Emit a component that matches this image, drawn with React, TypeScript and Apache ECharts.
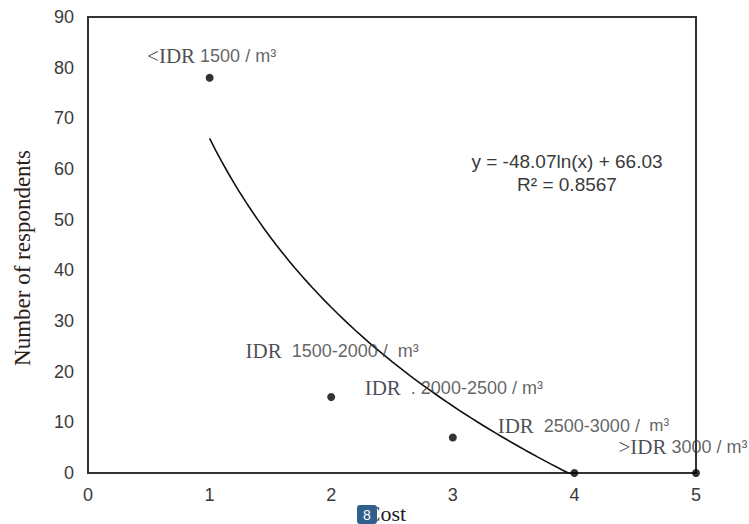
import React, { useEffect, useRef } from "react";
import * as echarts from "echarts";

// ---- data ----
const costValues = [1, 2, 3, 4, 5];
const respondents = [78, 15, 7, 0, 0];
const pricePrefix = ["<IDR", "IDR", "IDR", "IDR", ">IDR"];
const priceRange = ["1500 / m³", "1500-2000 /  m³", ". 2000-2500 / m³", "2500-3000 /", "3000 / m³"];
const priceUnitRaised = ["", "", "", "m³", ""];
const xTicks = [0, 1, 2, 3, 4, 5];
const yTicks = [0, 10, 20, 30, 40, 50, 60, 70, 80, 90];
// printed logarithmic trendline: y = a ln(x) + b
const trendA = -48.07;
const trendB = 66.03;
const trendStart = 1;
const trendEnd = 4;
const equationText = "y = -48.07ln(x) + 66.03";
const r2Text = "R² = 0.8567";

// label placement (styles)
const labelSeparators = [" ", "  ", "  ", "  ", " "];
const labelOffsets: [number, number][] = [
  [2, -22],
  [1, -46],
  [1, -50],
  [9, -47],
  [-13, -26],
];

const SERIF = "'Liberation Serif', 'Times New Roman', serif";
const SANS = "'Liberation Sans', Arial, sans-serif";

export default function App() {
  const ref = useRef<HTMLDivElement>(null);
  useEffect(() => {
    if (!ref.current) return;
    const chart = echarts.init(ref.current, undefined, { renderer: "svg" });

    const trend: [number, number][] = [];
    const steps = 60;
    for (let i = 0; i <= steps; i++) {
      const x = trendStart + ((trendEnd - trendStart) * i) / steps;
      trend.push([x, trendA * Math.log(x) + trendB]);
    }

    const scatterData = costValues.map((x, i) => ({
      value: [x, respondents[i]],
      label: {
        show: true,
        position: "inside",
        offset: labelOffsets[i],
        formatter:
          `{a|${pricePrefix[i]}}{b|${labelSeparators[i]}${priceRange[i]}}` +
          (priceUnitRaised[i] ? `{c|  ${priceUnitRaised[i]}}` : ""),
      },
    }));

    chart.setOption({
      animation: false,
      backgroundColor: "#ffffff",
      grid: {
        left: 88,
        right: 53,
        top: 17,
        bottom: 51,
        show: true,
        borderColor: "#333",
        borderWidth: 2,
        backgroundColor: "transparent",
      },
      xAxis: {
        type: "value",
        min: xTicks[0],
        max: xTicks[xTicks.length - 1],
        interval: 1,
        splitLine: { show: false },
        axisTick: { show: false },
        axisLine: { show: true, lineStyle: { color: "#333", width: 2 } },
        axisLabel: { color: "#3a3a3a", fontFamily: SANS, fontSize: 18, margin: 13 },
      },
      yAxis: {
        type: "value",
        min: yTicks[0],
        max: yTicks[yTicks.length - 1],
        interval: 10,
        splitLine: { show: false },
        axisTick: { show: false },
        axisLine: { show: true, lineStyle: { color: "#333", width: 2 } },
        axisLabel: { color: "#3a3a3a", fontFamily: SANS, fontSize: 18, margin: 14 },
      },
      series: [
        {
          type: "line",
          data: trend,
          showSymbol: false,
          symbol: "none",
          clip: true,
          lineStyle: { color: "#111", width: 1.6 },
          smooth: false,
          z: 2,
        },
        {
          type: "scatter",
          data: scatterData,
          symbol: "circle",
          symbolSize: 8,
          itemStyle: { color: "#000" },
          z: 3,
          label: {
            rich: {
              a: { fontFamily: SERIF, fontSize: 21, color: "#1c1c2a", lineHeight: 18 },
              b: { fontFamily: SANS, fontSize: 18, color: "#3a3a3a", lineHeight: 18 },
              c: {
                fontFamily: SANS,
                fontSize: 17,
                color: "#3a3a3a",
                lineHeight: 18,
                verticalAlign: "top",
                padding: [0, 0, 10, 0],
              },
            },
          },
        },
      ],
      graphic: [
        {
          type: "text",
          x: 22,
          y: 258,
          rotation: Math.PI / 2,
          style: {
            text: "Number of respondents",
            font: `23px ${SERIF}`,
            fill: "#2a2016",
            textAlign: "center",
            textVerticalAlign: "middle",
          },
        },
        {
          type: "text",
          x: 567,
          y: 161,
          style: {
            text: equationText,
            font: `19px ${SANS}`,
            fill: "#3a3a3a",
            textAlign: "center",
            textVerticalAlign: "middle",
          },
        },
        {
          type: "text",
          x: 567,
          y: 184,
          style: {
            text: r2Text,
            font: `19px ${SANS}`,
            fill: "#3a3a3a",
            textAlign: "center",
            textVerticalAlign: "middle",
          },
        },
        {
          type: "text",
          x: 386,
          y: 513,
          style: {
            text: "Cost",
            font: `22px ${SERIF}`,
            fill: "#1c1c2a",
            textAlign: "center",
            textVerticalAlign: "middle",
          },
        },
        {
          type: "rect",
          shape: { x: 357, y: 505, width: 20, height: 19, r: 3 },
          style: { fill: "#2f5f8a" },
        },
        {
          type: "text",
          x: 367,
          y: 515,
          style: {
            text: "8",
            font: `14px ${SANS}`,
            fill: "#ffffff",
            textAlign: "center",
            textVerticalAlign: "middle",
          },
        },
      ],
    });
    return () => chart.dispose();
  }, []);
  return <div ref={ref} style={{ width: 749, height: 524, position: "absolute", left: 0, top: 0 }} />;
}
